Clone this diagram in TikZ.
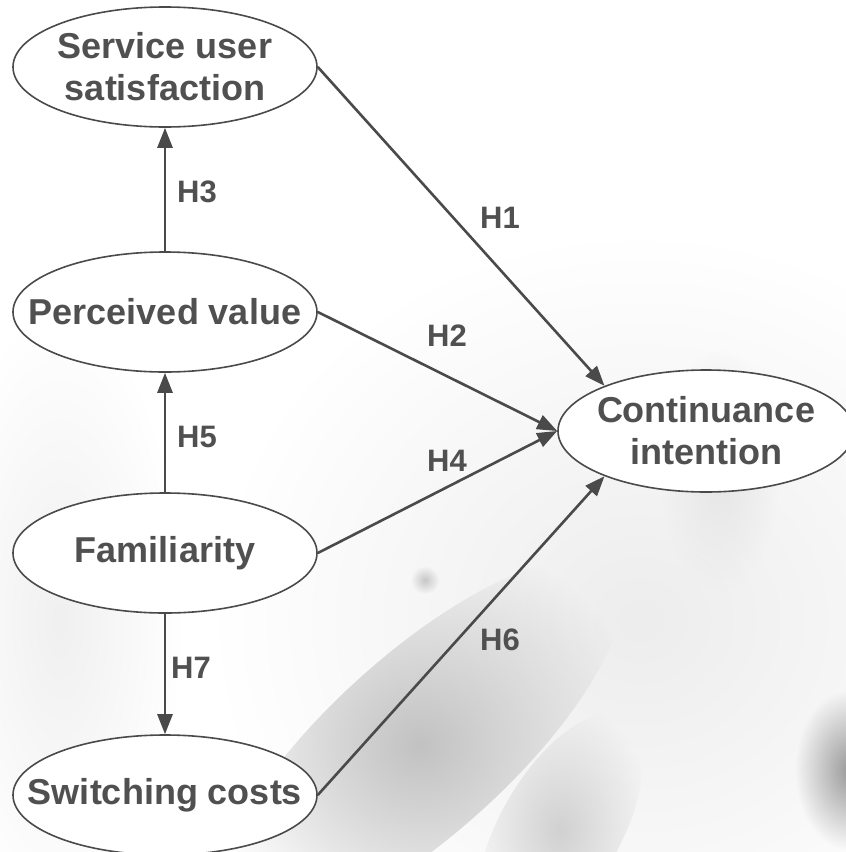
\documentclass[tikz,border=0pt]{standalone}
\usepackage{fontspec}
\setmainfont{Liberation Sans}
\usetikzlibrary{shapes.geometric,arrows.meta,fadings}
\definecolor{ink}{HTML}{4A4A4A}
\definecolor{txt}{HTML}{505050}
\tikzfading[name=soft, inner color=transparent!0, outer color=transparent!100]
\tikzset{
  construct/.style={draw=ink, line width=1.6pt, fill=white, ellipse, inner sep=0pt,
    minimum width=304pt, minimum height=120pt},
  ctext/.style={align=center, inner sep=0pt,
    font=\fontsize{36}{42}\selectfont\bfseries, text=txt},
  hyp/.style={draw=ink, line width=2.6pt, -{Triangle[length=20pt,width=15pt]}},
  hlabel/.style={font=\fontsize{31}{36}\selectfont\bfseries, text=txt, inner sep=0pt},
  blob/.style={path fading=soft}
}
\begin{document}
\begin{tikzpicture}[x=1pt,y=-1pt]
\useasboundingbox (0,0) rectangle (846,852);
\fill[white] (0,0) rectangle (846,852);
% faint background picture
\begin{scope}
\clip (0,0) rectangle (846,852);
\fill[black!7, blob] (640,620) ellipse (420 and 380);
\fill[black!6, blob] (60,620) ellipse (120 and 300);
\begin{scope}[shift={(420,745)}, rotate=42]
\fill[black!24, blob] (0,0) ellipse (260 and 90);
\end{scope}
\begin{scope}[shift={(560,830)}, rotate=60]
\fill[black!18, blob] (0,0) ellipse (130 and 60);
\end{scope}
\fill[black!40, blob] (850,770) ellipse (55 and 80);
\fill[black!22, blob] (425,580) ellipse (14 and 14);
\fill[black!10, blob] (720,470) ellipse (60 and 120);
\end{scope}
% constructs
\node[construct, label={[ctext]center:Service user\\satisfaction}] (sus) at (165,67) {};
\node[construct, label={[ctext]center:Perceived value}] (pv) at (165,312) {};
\node[construct, label={[ctext]center:Familiarity}] (fam) at (165,553) {};
\node[construct, label={[ctext]center:Switching costs}] (sc) at (165,795) {};
\node[construct, minimum width=296pt, minimum height=122pt,
      label={[ctext]center:Continuance\\intention}] (ci) at (706,431) {};
% hypotheses
\draw[hyp] (sus.east) -- (ci.156);
\draw[hyp] (pv.east) -- (ci.west);
\draw[hyp] (fam.east) -- (ci.west);
\draw[hyp] (sc.east) -- (ci.204);
\draw[hyp] (pv.north) -- (sus.south);
\draw[hyp] (fam.north) -- (pv.south);
\draw[hyp] (fam.south) -- (sc.north);
% labels
\node[hlabel] (h1) at (500,218) {H1};
\node[hlabel] (h2) at (447,336) {H2};
\node[hlabel] (h3) at (197,192) {H3};
\node[hlabel] (h4) at (447,461) {H4};
\node[hlabel] (h5) at (197,437) {H5};
\node[hlabel] (h6) at (500,640) {H6};
\node[hlabel] (h7) at (191,668) {H7};
\end{tikzpicture}
\end{document}
